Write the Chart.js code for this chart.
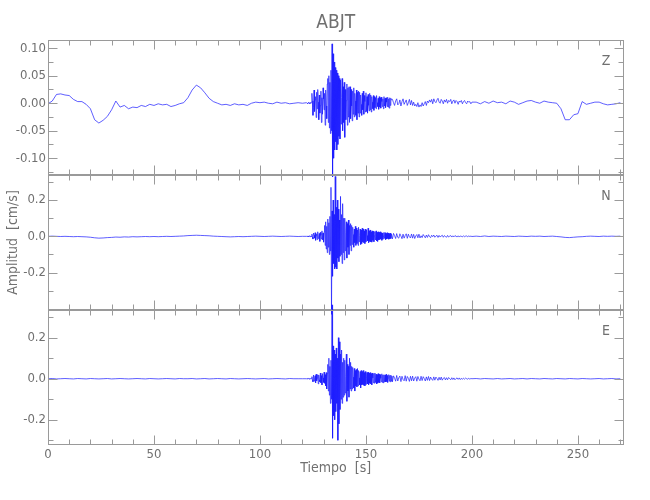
<!DOCTYPE html>
<html>
<head>
<meta charset="utf-8">
<script src="https://cdn.jsdelivr.net/npm/chart.js@4"></script>
<style>
  html, body { margin: 0; background: #fff; }
  #wrap { position: relative; width: 650px; height: 500px; }
  #wrap canvas { position: absolute; left: 0; top: 0; width: 650px; height: 500px; }
</style>
</head>
<body>
<div id="wrap">
  <canvas id="panelZ" width="650" height="500"></canvas>
  <canvas id="panelN" width="650" height="500"></canvas>
  <canvas id="panelE" width="650" height="500"></canvas>
</div>

<script>
/* ---------- DATA (cm/s) ---------- */
// sampling of each stretch: start time and step in seconds
const PRE  = { t0: 0,     dt: 2 };     // 0 .. 120
const BURST = { t0: 122,  dt: 0.25 };  // 122 .. 162
const TAIL = { t0: 162.5, dt: 0.5 };   // 162.5 .. 200
const POST = { t0: 202,   dt: 2 };     // 202 .. 270

const zPre = [
  -0.001, 0.004, 0.016, 0.017, 0.015, 0.014, 0.007, 0.003, 0.003, -0.002,
  -0.010, -0.030, -0.036, -0.031, -0.024, -0.012, 0.004, -0.007, -0.004, -0.010,
  -0.007, -0.008, -0.004, -0.006, -0.002, -0.004, -0.001, -0.003, -0.002, -0.006,
  -0.004, -0.001, 0.001, 0.010, 0.024, 0.033, 0.028, 0.019, 0.009, 0.003,
  0.000, -0.003, -0.002, -0.004, -0.001, -0.003, -0.002, -0.004, 0.000, 0.002,
  0.001, 0.002, 0.000, -0.001, 0.002, 0.000, 0.001, -0.001, 0.000, 0.001,
  0.000
];
const zBurst = [
  0.001, 0.000, -0.001, 0.001, 0.002, 0.000, -0.001, 0.001, 0.000, 0.002,
  0.018, 0.004, -0.022, -0.008, 0.024, -0.015, 0.006, 0.012, -0.026, 0.020,
  -0.010, 0.025, 0.002, -0.030, 0.015, -0.018, -0.004, 0.022, -0.035, 0.010,
  -0.020, 0.028, 0.008, -0.012, 0.018, -0.040, 0.024, -0.005, -0.028, 0.035,
  0.045, -0.035, 0.050, -0.045, 0.038, -0.055, 0.060, -0.050,
  0.108, -0.134, 0.090, -0.100, 0.075, -0.085, 0.065, -0.070,
  0.060, -0.085, 0.055, -0.075, 0.050, -0.060, 0.045, -0.065,
  0.042, -0.038, 0.010, 0.045, -0.050, 0.030, -0.035, 0.038,
  -0.062, 0.025, -0.030, 0.005, 0.035, -0.040, 0.028, -0.025,
  0.030, -0.035, 0.030, -0.028, 0.025, -0.005, -0.032, 0.022,
  -0.020, 0.028, -0.025, 0.018, 0.004, -0.022, 0.024, -0.030,
  0.020, -0.018, 0.022, -0.025, 0.020, -0.018, 0.015, -0.002, -0.022, 0.018, -0.012, 0.022,
  -0.020, 0.014, 0.003, -0.016, 0.019, -0.015, 0.012, -0.018, 0.016, -0.004, -0.014, 0.018,
  -0.012, 0.015, -0.016, 0.012, 0.002, -0.010, 0.014, -0.013, 0.012, -0.008,
  0.010, -0.010, 0.014, 0.001, -0.006, 0.009, -0.011, 0.012, -0.007, 0.010,
  -0.009, 0.011, 0.003, -0.006, 0.008, -0.010, 0.012, -0.005, 0.009, -0.008,
  0.010, 0.002, -0.006, 0.011, -0.007, 0.008, -0.009, 0.010, -0.004, 0.009,
  0.006
];
const zTail = [
  0.007, 0.001, -0.004, 0.004, 0.008, -0.003, -0.001, 0.006, -0.005, 0.003,
  0.008, -0.002, 0.002, 0.006, -0.004, 0.001, 0.007, -0.003, 0.005, -0.004,
  0.002, -0.005, -0.002, -0.006, 0.001, -0.007, -0.003, -0.006,
  0.001, -0.005, -0.001, 0.003, -0.004, 0.004, 0.001, 0.006,
  0.002, 0.007, -0.001, 0.008, 0.003, 0.001, 0.006, 0.009, 0.002, 0.000,
  0.007, 0.004, -0.001, 0.006, 0.002, 0.007, 0.000, 0.005, 0.003, 0.007,
  -0.001, 0.004, 0.006, 0.000, 0.005, 0.003, -0.002, 0.004, 0.002, 0.005,
  -0.001, 0.003, 0.005, 0.001, -0.001, 0.004, 0.002, 0.003, -0.001, 0.002
];
const zPost = [
  0.002, -0.001, 0.003, 0.000, 0.004, 0.001, 0.002, -0.001, 0.004, 0.002,
  -0.002, 0.001, 0.004, 0.005, 0.002, 0.000, 0.004, 0.002, 0.001, 0.000,
  -0.010, -0.030, -0.030, -0.021, -0.019, 0.003, -0.002, 0.000, 0.002, 0.002,
  -0.001, -0.003, -0.002, -0.001, 0.001
];

const nPre = [
  0.000, 0.001, 0.000, -0.001, 0.000, -0.001, -0.002, -0.001, -0.002, -0.003,
  -0.005, -0.008, -0.010, -0.009, -0.007, -0.006, -0.004, -0.005, -0.003, -0.004,
  -0.002, -0.003, -0.002, -0.001, -0.002, -0.001, -0.002, -0.001, 0.000, -0.001,
  0.000, 0.001, 0.002, 0.004, 0.005, 0.006, 0.005, 0.004, 0.003, 0.001,
  0.000, -0.001, -0.002, -0.003, -0.002, -0.001, -0.002, -0.001, 0.000, 0.001,
  0.000, -0.001, 0.000, 0.001, 0.000, -0.001, 0.000, 0.001, 0.000, -0.001,
  0.000
];
const nBurst = [
  0.000, 0.001, -0.001, 0.002, -0.002, 0.001, 0.003, -0.002, 0.002, -0.001,
  0.012, -0.003, -0.015, 0.018, 0.006, -0.010, 0.020, -0.022, 0.004, 0.014,
  -0.018, 0.025, -0.012, -0.002, 0.016, -0.028, 0.022, 0.005, -0.015, 0.030,
  -0.020, 0.018, -0.032, 0.025,
  0.060, -0.050, 0.080, -0.070, 0.055, -0.090, 0.095, -0.060, 0.075, -0.100, 0.110, -0.080,
  0.270, -0.430, 0.140, -0.220, 0.200, -0.150, 0.120, -0.180, 0.330, -0.170,
  0.160, -0.180, 0.200, -0.120, 0.150, -0.140, 0.090, -0.110,
  0.220, -0.100, 0.120, -0.150, 0.180, -0.090, 0.100, -0.130,
  0.100, -0.080, 0.020, 0.080, -0.120, 0.070, -0.060, 0.090, -0.100, 0.060, -0.050, 0.070,
  -0.080, 0.060, -0.045, 0.050, 0.010, -0.060, 0.040, -0.035, 0.055, -0.050, 0.045, -0.040,
  0.035, -0.050, 0.050, -0.030, 0.005, 0.040, -0.045, 0.035, -0.040, 0.045, -0.030, 0.040,
  -0.035, 0.030, -0.040, 0.040, -0.030, 0.035, 0.004, -0.025, 0.045, -0.035, 0.030, -0.028,
  0.035, -0.030, 0.025, -0.032, 0.030, -0.022, 0.028, -0.030, 0.003, 0.025, -0.020, 0.030,
  -0.025, 0.022, -0.028, 0.025, -0.020, 0.022, -0.018, 0.025, -0.015, 0.020,
  -0.022, 0.018, -0.016, 0.002, 0.022, -0.012, 0.020, -0.018, 0.016, -0.015,
  0.020, -0.012, 0.018, -0.016, 0.015, -0.014, 0.018, -0.012, 0.012
];
const nTail = [
  -0.014, 0.016, 0.004, -0.012, 0.015, -0.006, -0.010, 0.014, 0.002, -0.013,
  0.012, -0.010, 0.004, 0.014, -0.011, 0.012, -0.003, -0.009, 0.013, -0.010,
  0.011, -0.012, 0.002, 0.010, -0.008, 0.012, -0.009, 0.003,
  -0.007, 0.010, 0.001, -0.008, 0.007, -0.006, 0.009, -0.002,
  -0.007, 0.006, -0.002, 0.007, -0.005, 0.001, 0.006, -0.006, 0.005, -0.004,
  0.002, 0.006, -0.005, 0.004, -0.001, -0.005, 0.005, -0.004, 0.001, 0.004,
  -0.004, 0.003, -0.003, 0.004, 0.000, -0.003, 0.003, -0.004, 0.002, 0.000,
  -0.003, 0.003, -0.002, 0.001, 0.002, -0.002, 0.002, -0.001, 0.001, -0.001
];
const nPost = [
  0.001, -0.001, 0.002, -0.001, 0.001, 0.000, -0.001, 0.001, 0.000, -0.001,
  0.001, 0.000, -0.001, 0.001, 0.000, 0.001, -0.001, 0.000, 0.001, -0.001,
  -0.003, -0.006, -0.007, -0.005, -0.003, -0.002, 0.000, 0.001, 0.000, -0.001,
  0.001, 0.000, 0.001, 0.000, 0.001
];

const ePre = [
  0.000, 0.001, -0.001, 0.000, 0.001, 0.000, -0.001, 0.001, 0.000, -0.001,
  0.001, 0.000, -0.001, 0.000, 0.001, -0.001, 0.000, 0.001, 0.000, -0.001,
  0.000, 0.001, 0.000, -0.001, 0.001, 0.000, -0.001, 0.000, 0.001, 0.000,
  -0.001, 0.001, 0.000, 0.000, 0.001, -0.001, 0.000, 0.001, -0.001, 0.000,
  0.001, 0.000, -0.001, 0.001, 0.000, -0.001, 0.000, 0.001, 0.000, -0.001,
  0.000, 0.001, -0.001, 0.000, 0.001, 0.000, -0.001, 0.001, 0.000, 0.000,
  0.000
];
const eBurst = [
  0.000, 0.001, -0.001, 0.001, 0.000, -0.002, 0.002, -0.001, 0.001, 0.000,
  0.010, -0.004, -0.015, 0.018, -0.012, 0.005, 0.015, -0.020, 0.022, -0.010,
  0.003, 0.020, -0.025, 0.018, -0.006, -0.015, 0.028, -0.020, 0.015, -0.030,
  0.025, 0.004, -0.018, 0.032, -0.022, 0.020, -0.035, 0.030, -0.050, 0.025,
  0.070, -0.060, 0.100, -0.080, 0.060, -0.120, 0.090, -0.100,
  0.360, -0.290, 0.160, -0.180, 0.140, -0.200, 0.120, -0.160,
  0.150, -0.120, 0.100, -0.300, 0.200, -0.220, 0.180, -0.150,
  0.120, -0.100, 0.140, -0.120, 0.080, -0.090, 0.100, -0.080,
  0.090, -0.070, 0.010, 0.120, -0.110, 0.070, -0.060, 0.060, -0.090, 0.100, -0.050, 0.080,
  -0.060, 0.060, -0.050, 0.055, 0.008, -0.045, 0.050, -0.060, 0.040, -0.035, 0.045, -0.040,
  0.050, -0.035, 0.040, 0.004, -0.030, 0.035, -0.045, 0.040, -0.030, 0.035, -0.028, 0.040,
  -0.032, 0.030, -0.035, 0.035, -0.028, 0.002, 0.030, -0.025, 0.032, -0.030, 0.028, -0.022,
  0.030, -0.025, 0.025, -0.030, 0.028, 0.004, -0.020, 0.025, -0.022, 0.028, -0.018, 0.022,
  -0.025, 0.020, -0.022, 0.025, -0.018, 0.022, -0.020, 0.020, 0.002, -0.015,
  0.024, -0.018, 0.018, -0.020, 0.020, -0.015, 0.018, -0.016, 0.022, -0.014,
  0.016, -0.018, 0.003, 0.020, -0.012, 0.016, -0.015, 0.018, -0.012, 0.013
];
const eTail = [
  -0.015, 0.014, 0.003, -0.012, 0.016, -0.011, 0.005, 0.013, -0.014, 0.012,
  -0.004, -0.010, 0.015, -0.012, 0.011, 0.002, -0.013, 0.012, -0.010, 0.013,
  -0.011, 0.003, 0.010, -0.012, 0.011, -0.002, -0.010, 0.012,
  -0.009, 0.010, 0.001, -0.011, 0.009, -0.008, 0.011, -0.009,
  0.008, -0.002, -0.008, 0.009, -0.007, 0.008, 0.001, -0.008, 0.007, -0.006,
  0.008, -0.007, 0.002, 0.006, -0.006, 0.005, -0.005, 0.006, 0.000, -0.005,
  0.005, -0.004, 0.004, -0.005, 0.001, 0.004, -0.003, 0.004, -0.004, 0.002,
  -0.003, 0.003, -0.002, 0.003, 0.000, -0.002, 0.002, -0.002, 0.001, 0.000
];
const ePost = [
  0.001, -0.001, 0.001, 0.000, -0.001, 0.001, -0.001, 0.000, 0.001, -0.001,
  0.000, 0.001, -0.001, 0.001, 0.000, -0.001, 0.001, 0.000, -0.001, 0.001,
  0.000, -0.001, 0.001, 0.000, -0.001, 0.001, 0.000, -0.001, 0.000, 0.001,
  -0.001, 0.000, 0.001, -0.001, 0.000
];

// axis ticks
const xLabels = [0, 50, 100, 150, 200, 250];
const xMinor = [10, 20, 30, 40, 60, 70, 80, 90, 110, 120, 130, 140, 160, 170, 180, 190,
                210, 220, 230, 240, 260, 270];
const zLabels = [0.10, 0.05, 0.00, -0.05, -0.10];
const zMinor = [0.075, 0.025, -0.025, -0.075, -0.125];
const neLabels = [0.2, 0.0, -0.2];
const neMinor = [0.3, 0.1, -0.1, -0.3];

/* ---------- STYLE ---------- */
const FONT = "'Liberation Sans Narrow', 'DejaVu Sans Condensed', 'Roboto Condensed', sans-serif";
const TEXT = '#707070';
const AXIS = '#9a9a9a';
const TRACE = '#1a1aff';
const X_MAX = 271.5;

function series(seg, vals) {
  return vals.map((v, i) => ({ x: seg.t0 + i * seg.dt, y: v }));
}
function trace(pre, burst, tail, post) {
  return [].concat(series(PRE, pre), series(BURST, burst), series(TAIL, tail), series(POST, post));
}

/* ---------- frame: box, inward ticks, labels ---------- */
const frame = {
  id: 'frame',
  afterDraw(chart, args, opts) {
    const { ctx, chartArea: a } = chart;
    const xs = chart.scales.x, ys = chart.scales.y;
    ctx.save();
    ctx.strokeStyle = AXIS;
    ctx.lineWidth = 1;
    const L = Math.round(a.left) + 0.5, R = Math.round(a.right) - 0.5;
    const T = Math.round(a.top) + 0.5, B = Math.round(a.bottom) - 0.5;
    ctx.strokeRect(L, T, R - L, B - T);
    ctx.beginPath();
    const xt = (v, len) => {
      const p = Math.round(xs.getPixelForValue(v)) + 0.5;
      ctx.moveTo(p, T); ctx.lineTo(p, T + len);
      ctx.moveTo(p, B); ctx.lineTo(p, B - len);
    };
    const yt = (v, len) => {
      const p = Math.round(ys.getPixelForValue(v)) + 0.5;
      ctx.moveTo(L, p); ctx.lineTo(L + len, p);
      ctx.moveTo(R, p); ctx.lineTo(R - len, p);
    };
    xLabels.forEach(v => xt(v, 9));
    xMinor.forEach(v => xt(v, 5));
    opts.major.forEach(v => yt(v, 9));
    opts.minor.forEach(v => yt(v, 5));
    ctx.stroke();

    ctx.fillStyle = TEXT;
    ctx.textAlign = 'center';
    ctx.textBaseline = 'middle';
    ctx.font = '14px ' + FONT;
    ctx.fillText(opts.label, 606, a.top + 21);
    if (opts.title) {
      ctx.font = '19px ' + FONT;
      ctx.fillText(opts.title, (a.left + a.right) / 2, 23);
    }
    ctx.restore();
  }
};

function makePanel(id, cfg) {
  return new Chart(document.getElementById(id), {
    type: 'line',
    data: {
      datasets: [{
        data: cfg.points,
        borderColor: TRACE,
        borderWidth: 0.7,
        pointRadius: 0,
        tension: 0,
        clip: false
      }]
    },
    options: {
      responsive: false,
      animation: false,
      events: [],
      layout: { padding: { left: 0, right: 26.5, top: cfg.top, bottom: cfg.bottom } },
      plugins: {
        legend: { display: false },
        tooltip: { enabled: false },
        frame: { label: cfg.label, major: cfg.labels, minor: cfg.minor, title: cfg.title }
      },
      scales: {
        x: {
          type: 'linear',
          min: 0,
          max: X_MAX,
          display: cfg.showX,
          grid: { display: false, drawTicks: false },
          border: { display: false },
          afterBuildTicks: s => { s.ticks = xLabels.map(v => ({ value: v })); },
          afterFit: s => { s.height = cfg.showX ? 32 : 0; },
          ticks: { color: TEXT, font: { family: FONT, size: 13 }, padding: 2, maxRotation: 0 },
          title: {
            display: true,
            text: 'Tiempo  [s]',
            color: TEXT,
            font: { family: FONT, size: 14 },
            padding: 0
          }
        },
        y: {
          min: cfg.min,
          max: cfg.max,
          grid: { display: false, drawTicks: false },
          border: { display: false },
          afterBuildTicks: s => { s.ticks = cfg.labels.map(v => ({ value: v })); },
          afterFit: s => { s.width = 48; },
          ticks: {
            color: TEXT,
            font: { family: FONT, size: 13 },
            padding: 2,
            callback: v => v.toFixed(cfg.digits)
          },
          title: {
            display: !!cfg.yTitle,
            text: cfg.yTitle || '',
            color: TEXT,
            font: { family: FONT, size: 14 },
            padding: { top: 5, bottom: 0 }
          }
        }
      }
    },
    plugins: [frame]
  });
}

makePanel('panelZ', {
  points: trace(zPre, zBurst, zTail, zPost),
  top: 40, bottom: 325, showX: false,
  min: -0.1305, max: 0.115, labels: zLabels, minor: zMinor, digits: 2,
  label: 'Z', title: 'ABJT'
});
makePanel('panelN', {
  points: trace(nPre, nBurst, nTail, nPost),
  top: 175, bottom: 190, showX: false,
  min: -0.406, max: 0.338, labels: neLabels, minor: neMinor, digits: 1,
  label: 'N', yTitle: 'Amplitud  [cm/s]'
});
makePanel('panelE', {
  points: trace(ePre, eBurst, eTail, ePost),
  top: 310, bottom: 23, showX: true,
  min: -0.323, max: 0.335, labels: neLabels, minor: neMinor, digits: 1,
  label: 'E'
});
</script>
</body>
</html>
